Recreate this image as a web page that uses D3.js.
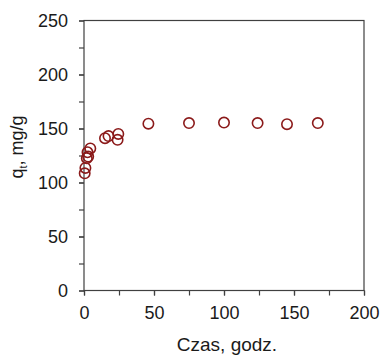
<!DOCTYPE html>
<html>
<head>
<meta charset="utf-8">
<script src="https://cdn.jsdelivr.net/npm/d3@7"></script>
<style>
  body { margin: 0; background: #fff; }
  svg text { font-family: "Liberation Sans", Arial, sans-serif; fill: #1a1a1a; }
</style>
</head>
<body>
<div id="chart"></div>
<script>
// measured data: time (h) and q_t (mg/g)
const czas = [0.5, 1, 2, 2.5, 3, 4.5, 15, 17.5, 24, 24.5, 46, 75, 100, 124, 145, 167];
const qt   = [108.5, 113.5, 122.5, 128, 124, 131.5, 141, 143, 139.5, 145, 154.5, 155, 155.5, 155, 154, 155];
const xTicks = [0, 50, 100, 150, 200];
const yTicks = [0, 50, 100, 150, 200, 250];

const width = 382, height = 356;
const margin = { top: 20.5, right: 18, bottom: 65.5, left: 84 };
const axisColor = "#404040";
const markColor = "#8b1a1a";

const svg = d3.select("#chart").append("svg")
    .attr("width", width)
    .attr("height", height);

const x = d3.scaleLinear().domain([0, 200]).range([margin.left, width - margin.right]);
const y = d3.scaleLinear().domain([0, 250]).range([height - margin.bottom, margin.top]);

// frame
svg.append("rect")
    .attr("x", x(0)).attr("y", y(250))
    .attr("width", x(200) - x(0)).attr("height", y(0) - y(250))
    .attr("fill", "none").attr("stroke", axisColor).attr("stroke-width", 1.2);

// minor ticks
const xAxisMinor = svg.append("g")
    .attr("transform", `translate(0,${y(0)})`)
    .call(d3.axisBottom(x).tickValues(d3.range(0, 201, 25)).tickSize(5).tickFormat(""));
const yAxisMinor = svg.append("g")
    .attr("transform", `translate(${x(0)},0)`)
    .call(d3.axisLeft(y).tickValues(d3.range(0, 251, 25)).tickSize(5).tickFormat(""));

// major ticks with labels
const xAxis = svg.append("g")
    .attr("transform", `translate(0,${y(0)})`)
    .call(d3.axisBottom(x).tickValues(xTicks).tickSize(5).tickPadding(11));
const yAxis = svg.append("g")
    .attr("transform", `translate(${x(0)},0)`)
    .call(d3.axisLeft(y).tickValues(yTicks).tickSize(5).tickPadding(11));

[xAxisMinor, yAxisMinor, xAxis, yAxis].forEach(g => {
    g.select(".domain").remove();
    g.selectAll("line").attr("stroke", axisColor).attr("stroke-width", 1.2);
    g.selectAll("text").style("font-size", "18px").attr("fill", "#1a1a1a");
});

// axis titles
svg.append("text")
    .attr("x", (x(0) + x(200)) / 2 + 3)
    .attr("y", 351)
    .attr("text-anchor", "middle")
    .style("font-size", "19px")
    .text("Czas, godz.");

const yLab = svg.append("text")
    .attr("transform", `translate(23,147) rotate(-90)`)
    .attr("text-anchor", "middle")
    .style("font-size", "18px");
yLab.append("tspan").text("q");
yLab.append("tspan").attr("dy", 4).style("font-size", "11px").text("t");
yLab.append("tspan").attr("dy", -4).text(", mg/g");

// points
svg.selectAll(".dot")
    .data(czas.map((t, i) => ({ t, q: qt[i] })))
    .enter().append("circle")
    .attr("class", "dot")
    .attr("cx", d => x(d.t))
    .attr("cy", d => y(d.q))
    .attr("r", 5.2)
    .attr("fill", "none")
    .attr("stroke", markColor)
    .attr("stroke-width", 1.6);
</script>
</body>
</html>
